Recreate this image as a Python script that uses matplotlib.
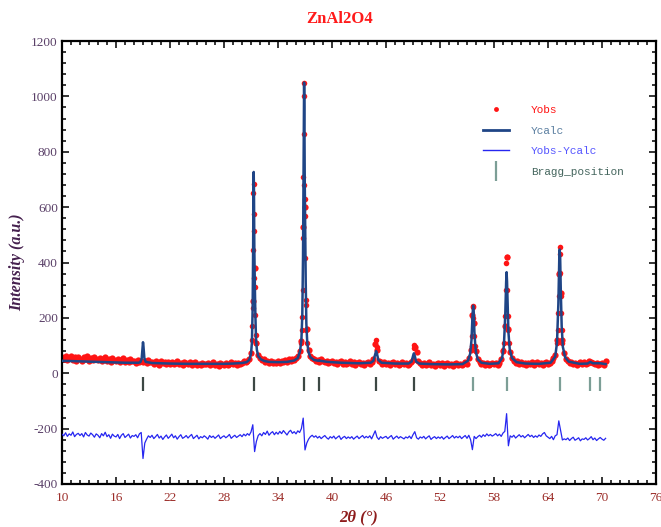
import numpy as np
import matplotlib.pyplot as plt
from matplotlib.lines import Line2D

plt.rcParams["axes.unicode_minus"] = False

TITLE = "ZnAl2O4"

# observed profile on a 0.2 deg grid starting at 10.0
obs_start = 10.0
obs_step = 0.2
obs_y = [
    58, 50, 62, 47, 55, 64, 49, 57, 45, 60,
    53, 46, 59, 50, 61, 44, 54, 48, 57, 52,
    47, 55, 43, 51, 58, 45, 50, 42, 54, 48,
    44, 52, 40, 49, 55, 42, 47, 39, 51, 45,
    43, 37, 48, 41, 46, 40, 44, 36, 47, 42,
    40, 34, 45, 38, 31, 43, 36, 41, 33, 39,
    35, 42, 32, 38, 44, 33, 37, 30, 40, 36,
    33, 39, 29, 36, 42, 31, 35, 28, 38, 34,
    32, 38, 28, 35, 41, 30, 34, 27, 37, 33,
    31, 37, 29, 34, 40, 32, 36, 30, 38, 35,
    37, 43, 39, 46, 50, 72, 260, 380, 108, 66,
    54, 47, 50, 42, 45, 38, 43, 36, 41, 37,
    44, 38, 46, 40, 48, 42, 50, 45, 53, 49,
    56, 62, 82, 115, 530, 600, 160, 85, 62, 55,
    50, 43, 48, 41, 52, 44, 39, 46, 37, 42,
    45, 36, 41, 33, 39, 44, 35, 40, 32, 38,
    43, 34, 39, 31, 37, 42, 33, 38, 30, 36,
    41, 34, 39, 50, 105, 85, 46, 40, 34, 39,
    33, 38, 30, 36, 41, 32, 37, 29, 35, 40,
    32, 37, 29, 35, 40, 47, 95, 78, 45, 36,
    31, 37, 28, 34, 39, 30, 35, 27, 33, 38,
    30, 36, 27, 33, 38, 29, 34, 26, 32, 37,
    31, 35, 28, 34, 39, 33, 55, 85, 210, 180,
    80, 52, 40, 34, 38, 30, 36, 29, 33, 37,
    32, 38, 30, 36, 52, 80, 170, 420, 160, 75,
    56, 46, 38, 43, 35, 40, 33, 38, 31, 37,
    34, 39, 31, 36, 41, 32, 37, 30, 36, 41,
    33, 38, 44, 55, 65, 120, 360, 290, 120, 72,
    50, 43, 36, 40, 33, 38, 31, 36, 42, 34,
    39, 33, 37, 45, 42, 38, 32, 37, 30, 35,
    38, 31, 45,
]

# extra observed points on the peak flanks
obs_peak_x = [
    31.10, 31.16, 31.20, 31.24, 31.27, 31.29, 31.32, 31.34, 31.36, 31.39, 31.44, 31.50, 31.56,
    36.60, 36.65, 36.72, 36.76, 36.80, 36.83, 36.86, 36.89, 36.91, 36.94, 36.96, 36.99,
    37.03, 37.07, 37.10, 37.14, 37.20,
    44.85, 44.95, 49.08, 49.15,
    55.50, 55.55, 55.62, 55.66, 55.72, 55.78, 55.85,
    59.00, 59.10, 59.20, 59.28, 59.35, 59.40, 59.45, 59.50, 59.58, 59.65,
    65.05, 65.10, 65.16, 65.20, 65.25, 65.30, 65.33, 65.38, 65.42, 65.46, 65.52, 65.60,
]
obs_peak_y = [
    121, 169, 237, 445, 650, 682, 574, 513, 345, 310, 212, 139, 110,
    110, 157, 204, 301, 490, 707, 863, 1048, 1000, 679, 629, 567,
    417, 266, 248, 157, 110,
    121, 95, 103, 90,
    97, 133, 244, 240, 200, 133, 97,
    85, 110, 206, 302, 399, 421, 302, 206, 157, 110,
    110, 157, 219, 278, 363, 457, 429, 363, 278, 219, 157, 110,
]

calc_x = [
    10.0, 11.0, 12.0, 13.0, 14.0, 15.0, 16.0, 17.0, 18.0, 18.5,
    18.7, 18.85, 18.95, 19.0, 19.05, 19.15, 19.3,
    20.0, 22.0, 24.0, 26.0, 28.0, 29.0, 30.0, 30.5,
    30.8, 31.0, 31.1, 31.18, 31.23, 31.27, 31.3, 31.33, 31.37, 31.42, 31.48, 31.55, 31.65, 31.8, 32.1, 32.5,
    33.0, 34.0, 35.0, 35.8, 36.2,
    36.45, 36.6, 36.7, 36.78, 36.84, 36.88, 36.9, 36.93, 36.97, 37.02, 37.08, 37.15, 37.25, 37.4, 37.6,
    38.0, 38.5, 38.6, 38.7,
    39.5, 41.0, 43.0, 44.3, 44.6, 44.8, 44.9, 45.0, 45.15, 45.5,
    47.0, 48.5, 48.85, 49.0, 49.1, 49.2, 49.35, 49.7,
    51.0, 53.0, 54.5, 55.1, 55.35, 55.5, 55.6, 55.68, 55.75, 55.82, 55.9, 56.0, 56.2, 56.6,
    57.5, 58.5, 58.9, 59.1, 59.25, 59.35, 59.4, 59.45, 59.52, 59.6, 59.75, 60.0, 60.5,
    61.5, 63.0, 64.3, 64.8, 65.0, 65.15, 65.25, 65.3, 65.35, 65.42, 65.52, 65.65, 65.9, 66.3,
    67.5, 68.4, 68.7, 69.0, 69.8, 70.4,
]
calc_y = [
    45, 44, 43, 42, 41, 40, 39, 38, 38, 38,
    40, 52, 95, 112, 98, 55, 41,
    37, 35, 34, 34, 34, 35, 37, 40,
    48, 70, 110, 230, 420, 640, 727, 660, 450, 330, 220, 130, 85, 62, 50, 44,
    41, 40, 41, 46, 55,
    80, 120, 210, 420, 760, 1000, 1050, 960, 700, 520, 330, 180, 110, 75, 58,
    48, 45, 47, 45,
    41, 38, 36, 38, 45, 68, 80, 70, 48, 38,
    35, 35, 42, 62, 72, 62, 42, 35,
    33, 32, 33, 45, 70, 120, 200, 244, 220, 150, 110, 75, 50, 38,
    34, 36, 55, 100, 210, 330, 365, 330, 240, 150, 85, 55, 40,
    35, 34, 38, 60, 110, 250, 410, 447, 420, 300, 170, 95, 58, 42,
    34, 35, 41, 36, 36, 33,
]

# difference curve (already offset), same grid as obs_y
diff_y = [
    -220, -226, -215, -228, -219, -224, -212, -229, -221, -217,
    -225, -218, -230, -214, -223, -227, -216, -222, -231, -219,
    -224, -233, -218, -226, -213, -229, -222, -235, -220, -227,
    -230, -221, -236, -224, -218, -232, -226, -220, -234, -225,
    -228, -222, -233, -219, -214, -308, -252, -238, -226, -232,
    -224, -236, -229, -221, -234, -227, -239, -230, -223, -235,
    -228, -220, -233, -226, -238, -229, -222, -235, -231, -225,
    -234, -227, -221, -236, -230, -224, -237, -229, -233, -226,
    -231, -238, -225, -232, -227, -235, -229, -223, -236, -230,
    -226, -233, -228, -221, -235, -229, -224, -232, -227, -222,
    -229, -220, -226, -218, -224, -212, -186, -283, -246, -225,
    -218, -226, -214, -221, -209, -224, -216, -211, -222, -213,
    -220, -210, -218, -207, -215, -223, -212, -206, -217, -211,
    -219, -208, -214, -200, -162, -277, -252, -238, -229, -224,
    -231, -226, -234, -228, -236, -230, -225, -233, -238, -229,
    -234, -227, -237, -231, -226, -239, -232, -228, -236, -230,
    -235, -229, -238, -232, -227, -236, -230, -225, -234, -228,
    -233, -226, -237, -222, -208, -231, -239, -229, -235, -231,
    -228, -236, -230, -225, -238, -232, -227, -235, -229, -233,
    -237, -230, -234, -227, -236, -222, -211, -233, -238, -230,
    -234, -228, -237, -231, -226, -239, -233, -229, -236, -230,
    -235, -229, -238, -232, -227, -236, -231, -225, -234, -228,
    -233, -227, -236, -230, -225, -235, -224, -240, -276, -228,
    -236, -229, -224, -231, -222, -228, -219, -226, -221, -227,
    -223, -218, -226, -220, -228, -216, -210, -146, -262, -226,
    -231, -224, -234, -228, -222, -230, -225, -233, -227, -221,
    -229, -224, -232, -226, -231, -223, -228, -219, -214, -226,
    -231, -236, -228, -240, -226, -222, -172, -206, -241, -237,
    -240, -234, -243, -236, -231, -242, -238, -233, -244, -237,
    -239, -233, -241, -236, -229, -240, -234, -243, -237, -232,
    -238, -242, -235,
]

bragg_pos = [19.0, 31.3, 36.9, 38.6, 44.9, 49.1, 55.7, 59.4, 65.3, 68.7, 69.8]

x_ticks = [10, 16, 22, 28, 34, 40, 46, 52, 58, 64, 70, 76]
y_ticks = [-400, -200, 0, 200, 400, 600, 800, 1000, 1200]

OBS_COLOR = "#ff1414"
CALC_COLOR = "#1f4586"
DIFF_COLOR = "#2626f0"
BRAGG_DARK = "#3c4844"
BRAGG_LIGHT = "#7c9e96"
SERIF = ["Liberation Serif", "DejaVu Serif"]


def main() -> None:
    two_theta = np.round(obs_start + obs_step * np.arange(len(obs_y)), 2)

    fig = plt.figure(figsize=(6.61, 5.27), dpi=100)
    ax = fig.add_axes([62 / 661, 43 / 527, 594 / 661, 443 / 527])

    ax.plot(two_theta, obs_y, ls="none", marker="o", ms=4.5, mew=0,
            color=OBS_COLOR, zorder=2)
    ax.plot(obs_peak_x, obs_peak_y, ls="none", marker="o", ms=4.0, mew=0,
            color=OBS_COLOR, zorder=2)
    ax.plot(calc_x, calc_y, color=CALC_COLOR, lw=1.8, zorder=3)
    ax.plot(two_theta, diff_y, color=DIFF_COLOR, lw=0.9, zorder=3)

    colors = [BRAGG_DARK if p < 50 else BRAGG_LIGHT for p in bragg_pos]
    ax.vlines(bragg_pos, -65, -15, colors=colors, lw=1.6, zorder=3)

    ax.set_xlim(10, 76)
    ax.set_ylim(-400, 1200)
    ax.set_xticks(x_ticks)
    ax.set_yticks(y_ticks)
    ax.set_xticks(np.arange(10, 77, 1), minor=True)
    ax.set_yticks(np.arange(-400, 1201, 40), minor=True)
    ax.tick_params(which="both", direction="in", top=True, right=True, width=1.1)
    ax.tick_params(which="major", length=5)
    ax.tick_params(which="minor", length=3)
    ax.tick_params(axis="x", pad=6)
    ax.tick_params(axis="y", pad=3)
    for lab in ax.get_xticklabels():
        lab.set_fontfamily(SERIF)
        lab.set_fontsize(9.5)
        lab.set_color("#9c2e2a")
    for lab in ax.get_yticklabels():
        lab.set_fontfamily(SERIF)
        lab.set_fontsize(9.5)
        lab.set_color("#5a4068")
    for spine in ax.spines.values():
        spine.set_linewidth(1.6)

    ax.set_xlabel("2\u03b8 (\u00b0)", fontfamily=SERIF, fontstyle="italic",
                  fontweight="bold", fontsize=12, color="#8e1c1c", labelpad=4)
    ax.set_ylabel("Intensity (a.u.)", fontfamily=SERIF, fontstyle="italic",
                  fontweight="bold", fontsize=11.5, color="#45204e", labelpad=4)
    ax.set_title(TITLE, fontfamily=SERIF, fontweight="bold", fontsize=12,
                 color="#ff1a1a", pad=13, x=0.468)

    handles = [
        Line2D([], [], ls="none", marker="o", ms=3.5, mew=0, color=OBS_COLOR),
        Line2D([], [], color=CALC_COLOR, lw=2),
        Line2D([], [], color=DIFF_COLOR, lw=1),
        Line2D([], [], ls="none", marker="|", ms=14, mew=1.6, color=BRAGG_LIGHT),
    ]
    labels = ["Yobs", "Ycalc", "Yobs-Ycalc", "Bragg_position"]
    ax.legend(handles, labels, loc="upper left", bbox_to_anchor=(0.709, 0.855),
              frameon=False, borderpad=0, borderaxespad=0, handlelength=2.3,
              handletextpad=2.0, labelspacing=0.95,
              prop={"family": ["Liberation Mono", "DejaVu Sans Mono"], "size": 8},
              labelcolor=[OBS_COLOR, "#5a7ea0", "#5656ff", "#45665e"])

    fig.savefig("out.png", dpi=100)
    plt.close(fig)


if __name__ == "__main__":
    main()
